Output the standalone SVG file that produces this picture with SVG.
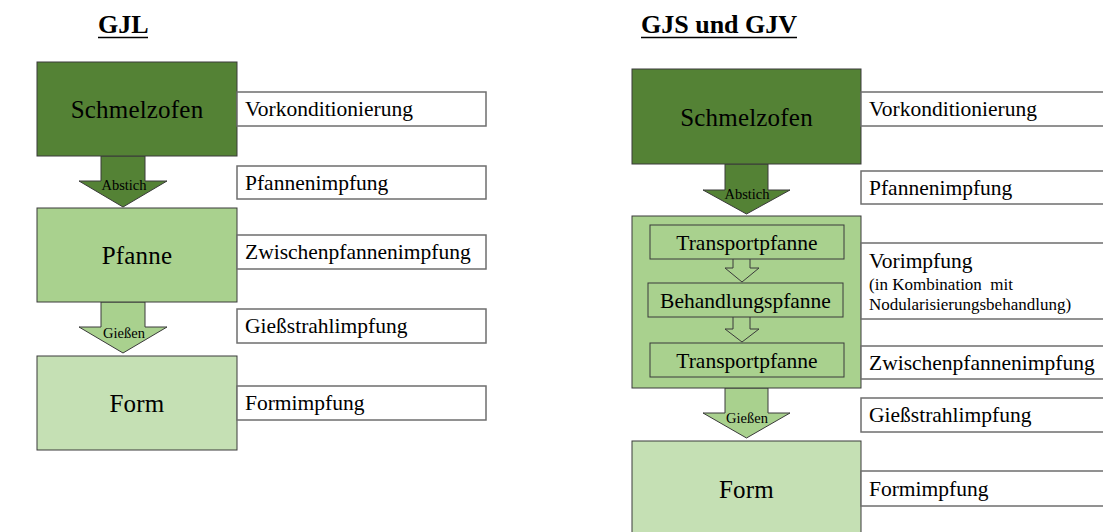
<svg xmlns="http://www.w3.org/2000/svg" width="1103" height="532" viewBox="0 0 1103 532">
  <style>
    text { font-family: 'Liberation Serif', 'Times New Roman', serif; fill: #000; }
    .title { font-size: 26px; font-weight: bold; }
    .uline { stroke: #000; stroke-width: 1.6; }
    .big { font-size: 25px; text-anchor: middle; letter-spacing: 0.2px; }
    .lbl { font-size: 21.5px; }
    .inner { font-size: 21.5px; text-anchor: middle; }
    .small { font-size: 17px; }
    .arr { font-size: 14.5px; text-anchor: middle; }
    .dark { fill: #548235; stroke: #3a3a3a; stroke-width: 1; }
    .mid { fill: #a9d18e; stroke: #3a3a3a; stroke-width: 1; }
    .light { fill: #c5e0b4; stroke: #3a3a3a; stroke-width: 1; }
    .box { fill: #ffffff; stroke: #6e6e6e; stroke-width: 1.5; }
    .hollow { fill: none; stroke: #3a3a3a; stroke-width: 1; }
  </style>
  <rect x="0" y="0" width="1103" height="532" fill="#ffffff"/>

  <!-- left column: GJL -->
  <text class="title" x="98" y="33">GJL</text>
  <line class="uline" x1="98" y1="37.5" x2="148" y2="37.5"/>

  <g id="gjl-connectors">
    <path class="dark" d="M101,156 V181 H79 L123,207 L167,181 H145 V156 Z"/>
    <text class="arr" x="124" y="190">Abstich</text>
    <path class="mid" d="M101,302 V327 H79 L123,353 L167,327 H145 V302 Z"/>
    <text class="arr" x="124" y="338">Gießen</text>
  </g>

  <g id="gjl-schmelzofen">
    <rect class="dark" x="37" y="62" width="200" height="94"/>
    <text class="big" x="137" y="118">Schmelzofen</text>
  </g>
  <g id="gjl-pfanne">
    <rect class="mid" x="37" y="208" width="200" height="94"/>
    <text class="big" x="137" y="264">Pfanne</text>
  </g>
  <g id="gjl-form">
    <rect class="light" x="37" y="356" width="200" height="94"/>
    <text class="big" x="137" y="412">Form</text>
  </g>

  <g id="gjl-vorkonditionierung">
    <rect class="box" x="237" y="92" width="249" height="34"/>
    <text class="lbl" x="245" y="116">Vorkonditionierung</text>
  </g>
  <g id="gjl-pfannenimpfung">
    <rect class="box" x="237" y="166" width="249" height="33"/>
    <text class="lbl" x="245" y="190">Pfannenimpfung</text>
  </g>
  <g id="gjl-zwischenpfannenimpfung">
    <rect class="box" x="237" y="235" width="249" height="34"/>
    <text class="lbl" x="245" y="259">Zwischenpfannenimpfung</text>
  </g>
  <g id="gjl-giessstrahlimpfung">
    <rect class="box" x="237" y="309" width="249" height="34"/>
    <text class="lbl" x="245" y="333">Gießstrahlimpfung</text>
  </g>
  <g id="gjl-formimpfung">
    <rect class="box" x="237" y="386" width="249" height="34"/>
    <text class="lbl" x="245" y="410">Formimpfung</text>
  </g>

  <!-- right column: GJS und GJV -->
  <text class="title" x="641" y="33">GJS und GJV</text>
  <line class="uline" x1="641" y1="37.5" x2="797" y2="37.5"/>

  <g id="gjs-connectors">
    <path class="dark" d="M725,164 V190 H703 L746.5,214 L790,190 H768 V164 Z"/>
    <text class="arr" x="747" y="199">Abstich</text>
    <path class="mid" d="M725,388 V413 H703 L746.5,438 L790,413 H768 V388 Z"/>
    <text class="arr" x="747" y="423">Gießen</text>
  </g>

  <g id="gjs-schmelzofen">
    <rect class="dark" x="632" y="69" width="229" height="95"/>
    <text class="big" x="746.5" y="126">Schmelzofen</text>
  </g>

  <g id="gjs-pfanne">
    <rect class="mid" x="632" y="216" width="229" height="172"/>
    <g id="gjs-transportpfanne-1">
      <rect class="mid" x="650" y="225" width="194" height="34"/>
      <text class="inner" x="747" y="250">Transportpfanne</text>
    </g>
    <path class="hollow" d="M733,259 V268 H725 L742,282 L759,268 H750 V259"/>
    <g id="gjs-behandlungspfanne">
      <rect class="mid" x="648" y="283" width="195" height="34"/>
      <text class="inner" x="745.5" y="308">Behandlungspfanne</text>
    </g>
    <path class="hollow" d="M733,317 V329 H725 L742,342 L759,329 H750 V317"/>
    <g id="gjs-transportpfanne-2">
      <rect class="mid" x="650" y="343" width="194" height="34"/>
      <text class="inner" x="747" y="368">Transportpfanne</text>
    </g>
  </g>

  <g id="gjs-form">
    <rect class="light" x="632" y="441" width="229" height="100"/>
    <text class="big" x="746.5" y="498">Form</text>
  </g>

  <g id="gjs-vorkonditionierung">
    <rect class="box" x="861" y="92" width="250" height="34"/>
    <text class="lbl" x="869" y="116">Vorkonditionierung</text>
  </g>
  <g id="gjs-pfannenimpfung">
    <rect class="box" x="861" y="171" width="250" height="33"/>
    <text class="lbl" x="869" y="195">Pfannenimpfung</text>
  </g>
  <g id="gjs-vorimpfung">
    <rect class="box" x="861" y="243" width="250" height="76"/>
    <text class="lbl" x="869" y="268">Vorimpfung</text>
    <text class="small" x="869" y="290" xml:space="preserve">(in Kombination  mit</text>
    <text class="small" x="869" y="310">Nodularisierungsbehandlung)</text>
  </g>
  <g id="gjs-zwischenpfannenimpfung">
    <rect class="box" x="861" y="346" width="250" height="33"/>
    <text class="lbl" x="869" y="370">Zwischenpfannenimpfung</text>
  </g>
  <g id="gjs-giessstrahlimpfung">
    <rect class="box" x="861" y="398" width="250" height="34"/>
    <text class="lbl" x="869" y="422">Gießstrahlimpfung</text>
  </g>
  <g id="gjs-formimpfung">
    <rect class="box" x="861" y="471" width="250" height="35"/>
    <text class="lbl" x="869" y="496">Formimpfung</text>
  </g>
</svg>
